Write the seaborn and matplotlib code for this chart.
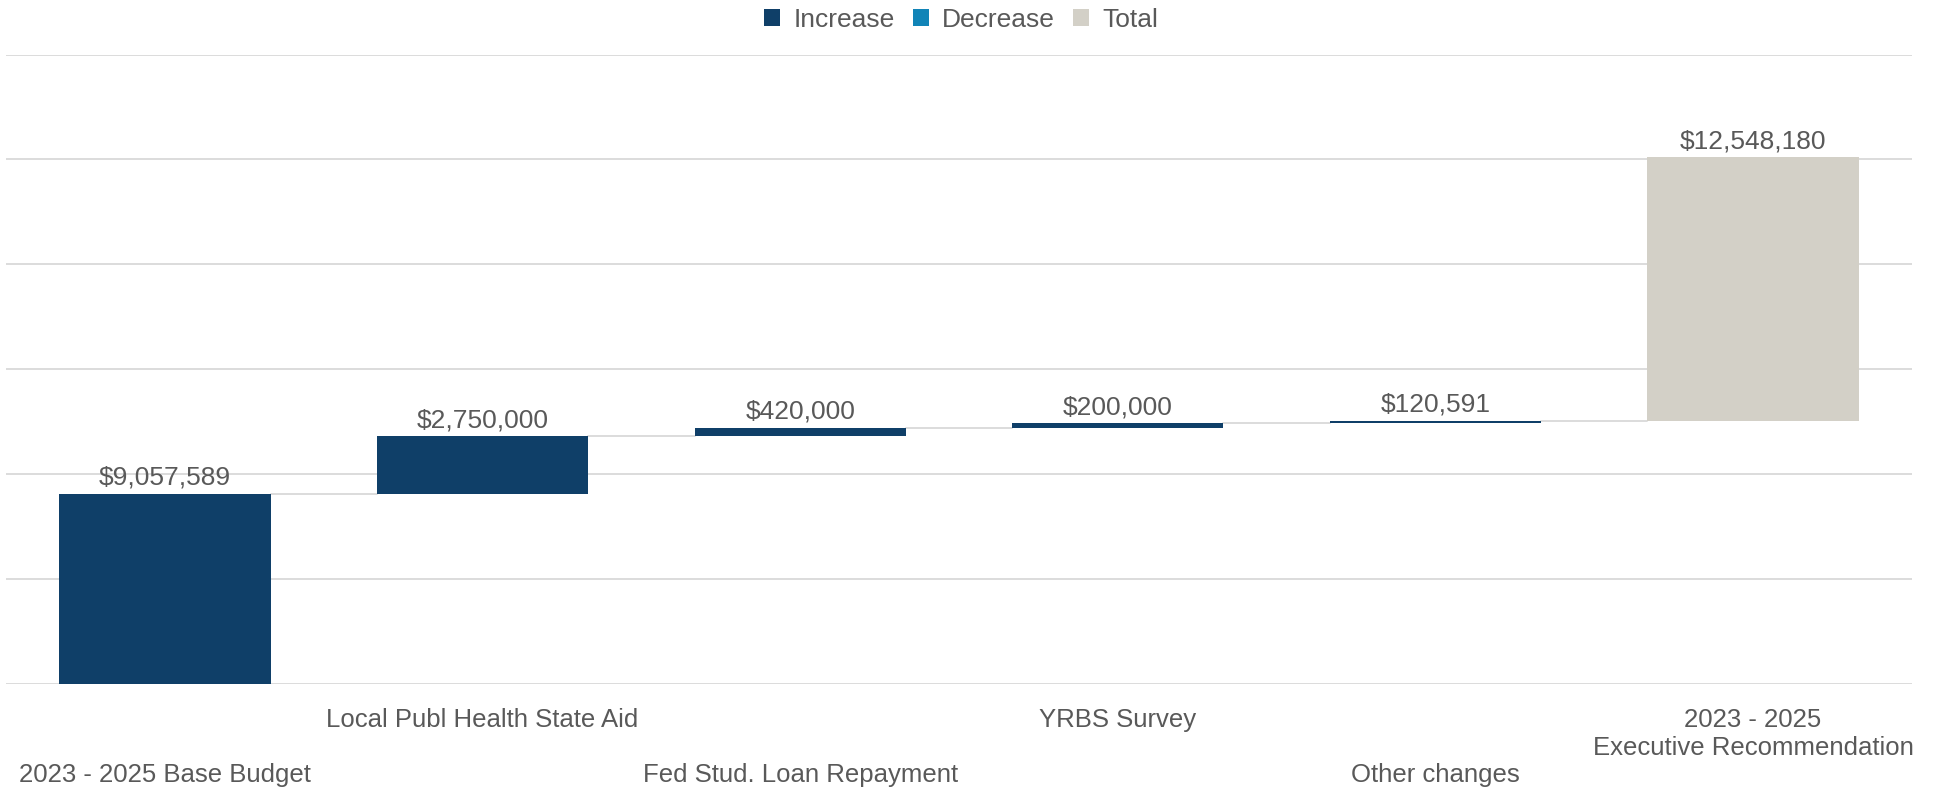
import numpy as np
import matplotlib
matplotlib.use("Agg")
import matplotlib.pyplot as plt
from matplotlib.patches import Patch
import seaborn as sns

# ---- data ----
categories = [
    "2023 - 2025 Base Budget",
    "Local Publ Health State Aid",
    "Fed Stud. Loan Repayment",
    "YRBS Survey",
    "Other changes",
    "2023 - 2025\nExecutive Recommendation",
]
changes = [9057589, 2750000, 420000, 200000, 120591]
total = 12548180
kinds = ["Increase", "Increase", "Increase", "Increase", "Increase", "Total"]
value_labels = ["$9,057,589", "$2,750,000", "$420,000", "$200,000", "$120,591", "$12,548,180"]
legend_names = ["Increase", "Decrease", "Total"]
y_ticks = [0, 5e6, 10e6, 15e6, 20e6, 25e6, 30e6]

colors = {"Increase": "#0f3f68", "Decrease": "#1184b7", "Total": "#d3d0c7"}
text_color = "#595959"
grid_color = "#d9d9d9"

# waterfall geometry (the original draws the total bar on top of the running level)
cum = np.cumsum(changes)
bases = list(np.concatenate([[0], cum[:-1]])) + [cum[-1]]
heights = list(changes) + [total]

sns.set_theme(style="white")
plt.rcParams["font.family"] = ["Liberation Sans", "DejaVu Sans"]

fig = plt.figure(figsize=(19.34, 7.9), dpi=100)
ax = fig.add_axes([0.0032, 0.134, 0.9853, 0.797])

bw = 0.665
sns.barplot(x=categories, y=heights, bottom=bases, order=categories,
            color=colors["Increase"], width=bw, ax=ax, zorder=3)
for p, k in zip(ax.patches, kinds):
    p.set_facecolor(colors[k])
    p.set_edgecolor(colors[k])
    p.set_linewidth(0)

ax.bar_label(ax.containers[0], labels=value_labels, padding=3,
             fontsize=19, color=text_color)

# connectors
levels = list(cum)
for i, lv in enumerate(levels):
    ax.plot([i + bw / 2, i + 1 - bw / 2], [lv, lv], color=grid_color, lw=1.3, zorder=2)

ax.set_xlim(-0.5, 5.5)
ax.set_ylim(0, 30e6)
ax.set_yticks(y_ticks)
ax.set_yticklabels([])
ax.tick_params(axis="y", length=0)
ax.yaxis.grid(True, color=grid_color, lw=1.3)
ax.set_axisbelow(True)
for s in ax.spines.values():
    s.set_visible(False)

ax.set_xticks(range(len(categories)))
tick_text = [("\n\n" + c) if i % 2 == 0 else c for i, c in enumerate(categories)]
ax.set_xticklabels(tick_text, fontsize=18.5, color=text_color, va="top",
                   linespacing=1.2)
ax.tick_params(axis="x", length=0, pad=17)
ax.set_xlabel("")
ax.set_ylabel("")

handles = [Patch(facecolor=colors[n], edgecolor="none", label=n) for n in legend_names]
leg = fig.legend(handles=handles, loc="center", bbox_to_anchor=(0.497, 0.975),
                 ncol=3, frameon=False, fontsize=19, handlelength=0.6,
                 handleheight=0.6, handletextpad=0.5, columnspacing=0.7)
for t in leg.get_texts():
    t.set_color(text_color)

fig.savefig("out.png", dpi=100, facecolor="white")
